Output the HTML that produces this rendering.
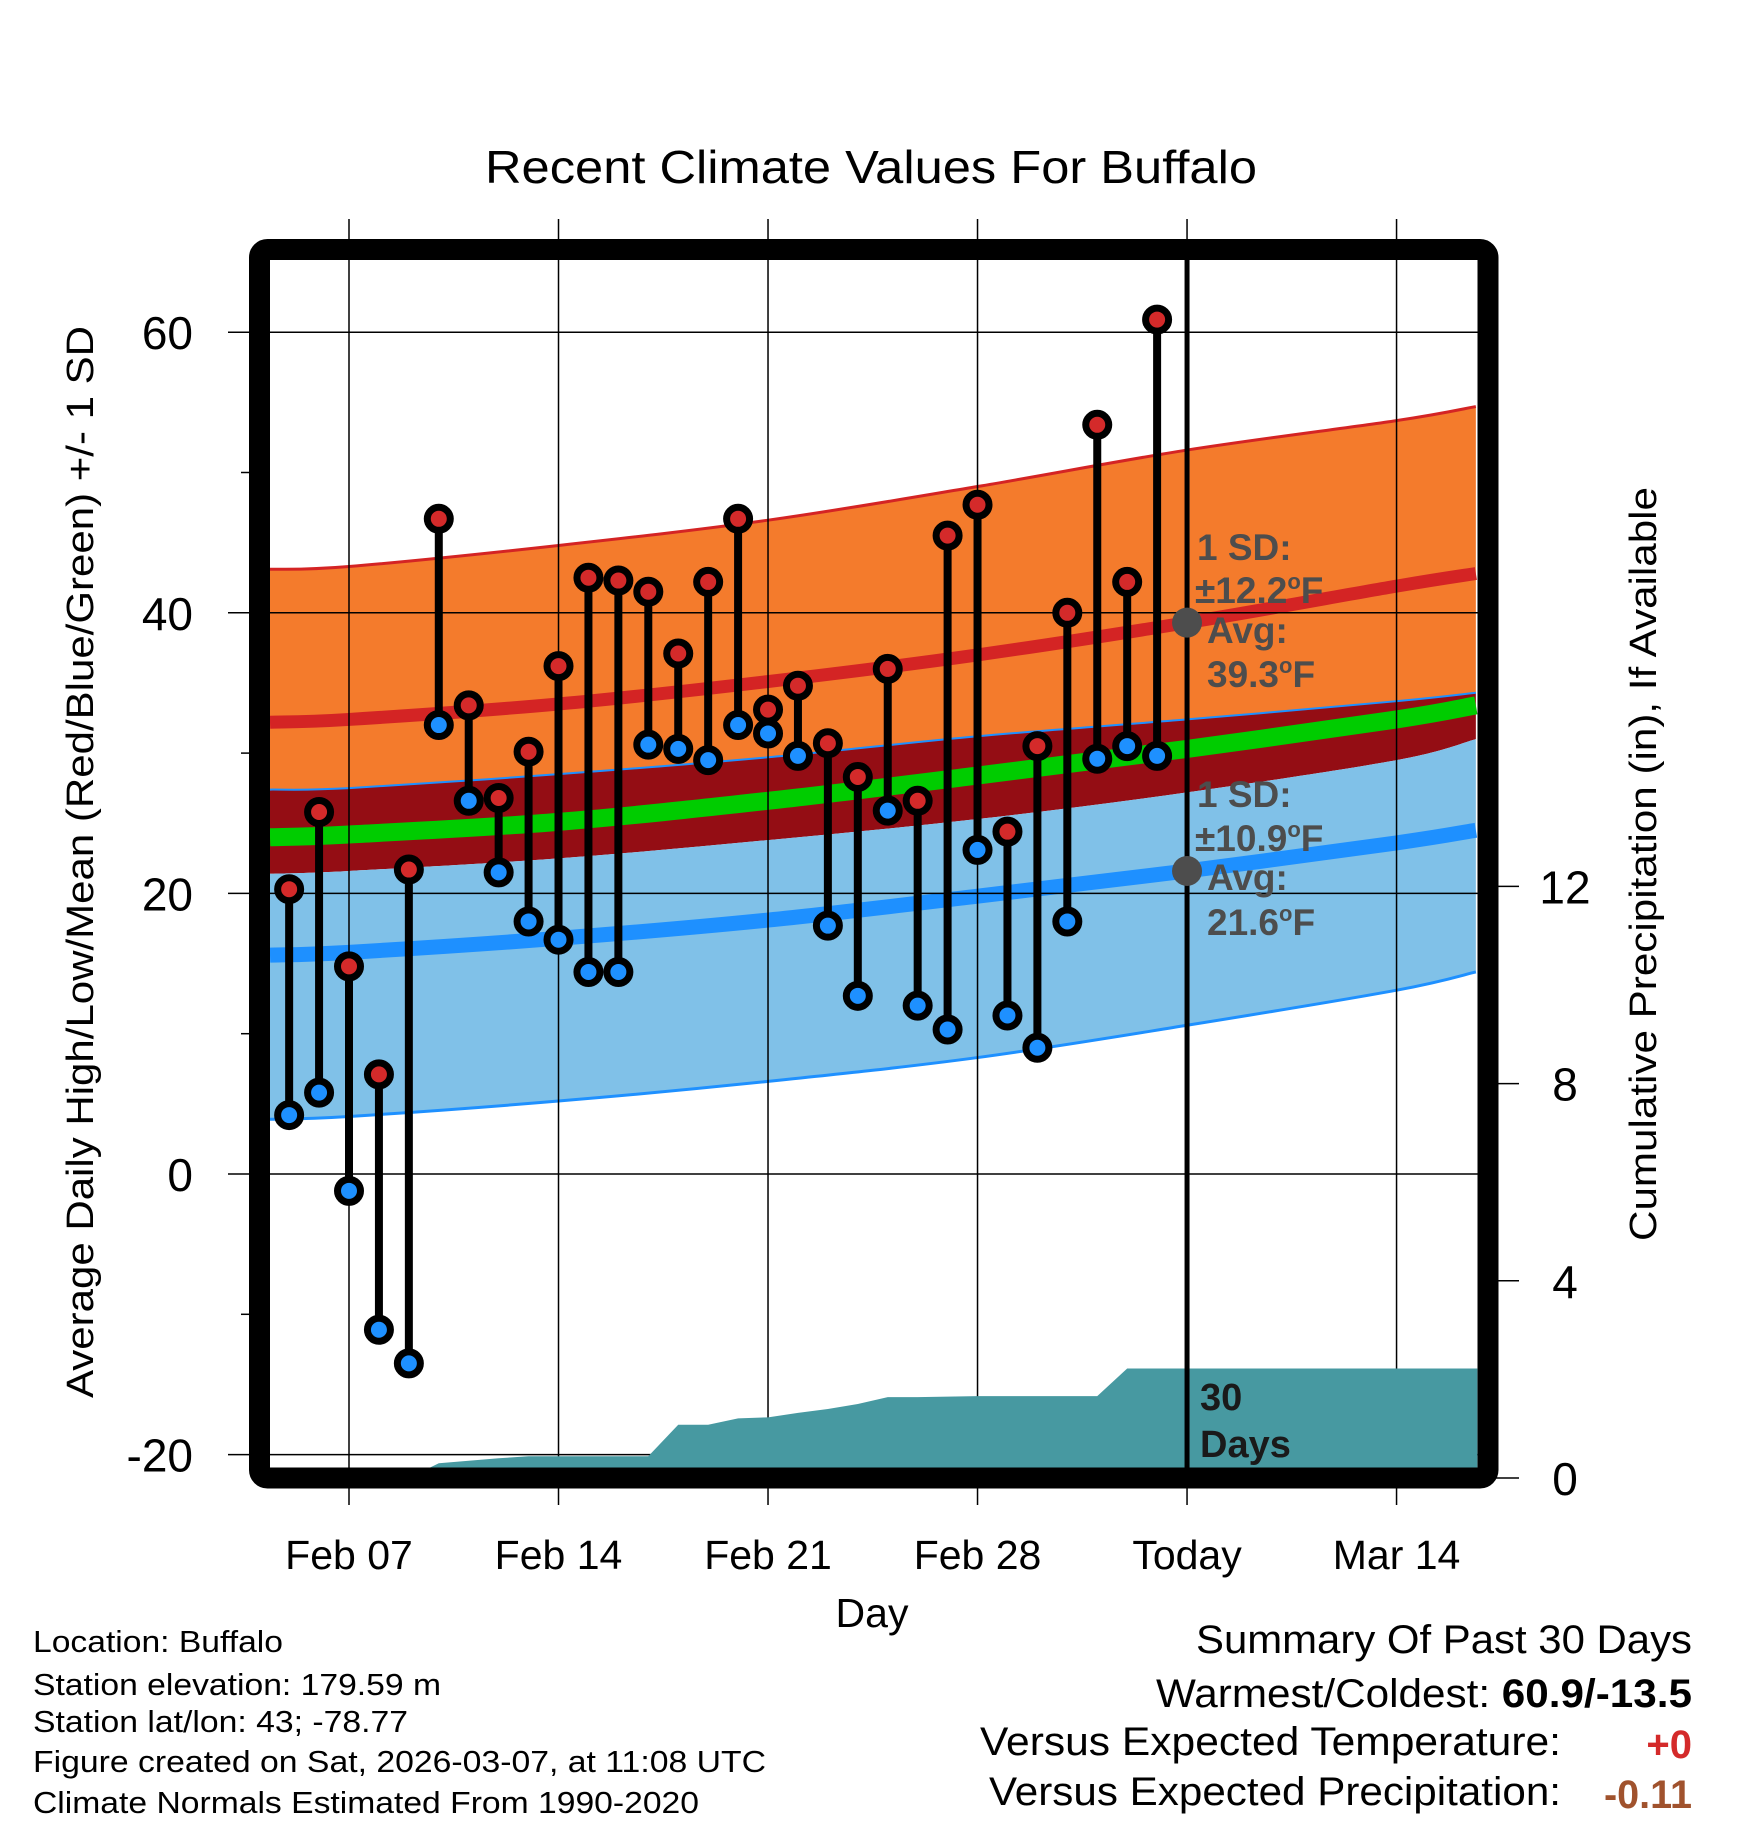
<!DOCTYPE html>
<html><head><meta charset="utf-8"><title>Recent Climate Values For Buffalo</title>
<style>html,body{margin:0;padding:0;background:#fff}svg{display:block}text{font-family:"Liberation Sans",sans-serif}</style>
</head><body>
<svg id="chart" xmlns="http://www.w3.org/2000/svg" width="1748" height="1828" viewBox="0 0 1748 1828">
<rect width="1748" height="1828" fill="#fff"/>
<defs><clipPath id="pc"><rect x="270" y="260" width="1208" height="1208"/></clipPath></defs>
<text x="871" y="183" font-size="46" text-anchor="middle" textLength="772" lengthAdjust="spacingAndGlyphs">Recent Climate Values For Buffalo</text>
<g id="bands" clip-path="url(#pc)"></g>
<g id="grid"></g>
<g id="precip" clip-path="url(#pc)"></g>
<g id="marks"></g>
<g id="annot"></g>
<rect x="259.5" y="249.5" width="1228.5" height="1228.5" rx="8" fill="none" stroke="#000" stroke-width="21"/>
<g id="axes"></g>
<text x="872" y="1627" font-size="41" text-anchor="middle">Day</text>
<text transform="translate(93,862) rotate(-90)" font-size="38" text-anchor="middle" textLength="1072" lengthAdjust="spacingAndGlyphs">Average Daily High/Low/Mean (Red/Blue/Green) +/- 1 SD</text>
<text transform="translate(1656,864) rotate(-90)" font-size="38" text-anchor="middle" textLength="754" lengthAdjust="spacingAndGlyphs">Cumulative Precipitation (in), If Available</text>
<g font-size="31">
<text x="33" y="1652" textLength="250" lengthAdjust="spacingAndGlyphs">Location: Buffalo</text>
<text x="33" y="1695" textLength="408" lengthAdjust="spacingAndGlyphs">Station elevation: 179.59 m</text>
<text x="33" y="1732" textLength="375" lengthAdjust="spacingAndGlyphs">Station lat/lon: 43; -78.77</text>
<text x="33" y="1772" textLength="733" lengthAdjust="spacingAndGlyphs">Figure created on Sat, 2026-03-07, at 11:08 UTC</text>
<text x="33" y="1813" textLength="666" lengthAdjust="spacingAndGlyphs">Climate Normals Estimated From 1990-2020</text>
</g>
<g font-size="40">
<text x="1692" y="1653" text-anchor="end" textLength="496" lengthAdjust="spacingAndGlyphs">Summary Of Past 30 Days</text>
<text x="1692" y="1707" text-anchor="end" textLength="536" lengthAdjust="spacingAndGlyphs">Warmest/Coldest: <tspan font-weight="bold">60.9/-13.5</tspan></text>
<text x="1561" y="1755" text-anchor="end" textLength="581" lengthAdjust="spacingAndGlyphs">Versus Expected Temperature:</text>
<text x="1692" y="1758" text-anchor="end" font-weight="bold" fill="#d42a2a">+0</text>
<text x="1561" y="1805" text-anchor="end" textLength="572" lengthAdjust="spacingAndGlyphs">Versus Expected Precipitation:</text>
<text x="1692" y="1808" text-anchor="end" font-weight="bold" fill="#a0522d" textLength="88" lengthAdjust="spacingAndGlyphs">-0.11</text>
</g>
</svg>
<script>
// ---- data ----
const dayLabels = ["Feb 07","Feb 14","Feb 21","Feb 28","Today","Mar 14"];
const dayTicks = [0,7,14,21,28,35];
const tempTicks = [60,40,20,0,-20];
const tempMinor = [50,30,10,-10];
const precipTicks = [0,4,8,12];
const obsDays = [-2,-1,0,1,2,3,4,5,6,7,8,9,10,11,12,13,14,15,16,17,18,19,20,21,22,23,24,25,26,27];
const highs = [20.3,25.8,14.8,7.1,21.7,46.7,33.4,26.8,30.1,36.2,42.5,42.3,41.5,37.1,42.2,46.7,33.1,34.8,30.7,28.3,36.0,26.6,45.5,47.7,24.4,30.5,40.0,53.4,42.2,60.9];
const lows = [4.2,5.8,-1.2,-11.1,-13.5,32.0,26.6,21.5,18.0,16.7,14.4,14.4,30.6,30.3,29.5,32.0,31.4,29.8,17.7,12.7,25.9,12.0,10.3,23.1,11.3,9.0,18.0,29.6,30.5,29.8];
const precipCum = [0,0,0,0,0,0.30,0.35,0.40,0.44,0.44,0.44,0.44,0.44,1.08,1.08,1.21,1.23,1.32,1.40,1.50,1.64,1.64,1.65,1.66,1.66,1.66,1.66,1.66,2.22,2.22];
const precipEndDay = 37.7;
const normDays = [-2.64,0,7,14,21,28,35,37.65];
const highUpper = [43.1,43.3,44.8,46.6,49.0,51.6,53.7,54.7];
const highAvg = [32.2,32.4,33.5,35.1,37.0,39.3,41.9,42.8];
const highLower = [27.4,27.5,28.5,29.7,31.2,32.4,33.7,34.3];
const meanAvg = [24.0,24.2,25.1,26.6,28.4,30.3,32.4,33.4];
const lowUpper = [21.4,21.6,22.5,23.8,25.3,27.2,29.5,31.0];
const lowAvg = [15.6,15.8,16.8,18.1,19.8,21.6,23.6,24.5];
const lowLower = [3.9,4.1,5.2,6.6,8.3,10.6,13.1,14.4];
const todayDay = 28;
const highSD = "12.2", highAvgTxt = "39.3", lowSD = "10.9", lowAvgTxt = "21.6";
// ---- scales ----
const X = d => 349 + 29.93*d;
const Y = t => 1174 - 14.03*t;
const P = p => 1478 - 49.3*p;
const NS = "http://www.w3.org/2000/svg";
function mk(tag, attrs, parent){const e=document.createElementNS(NS,tag);for(const k in attrs)e.setAttribute(k,attrs[k]);parent.appendChild(e);return e;}
function pts(vals){return normDays.map((d,i)=>[X(d),Y(vals[i])]);}
function smooth(p){let s="M"+p[0][0]+","+p[0][1];for(let i=0;i<p.length-1;i++){const p0=p[i-1]||p[i],p1=p[i],p2=p[i+1],p3=p[i+2]||p2;const c1=[p1[0]+(p2[0]-p0[0])/6,p1[1]+(p2[1]-p0[1])/6],c2=[p2[0]-(p3[0]-p1[0])/6,p2[1]-(p3[1]-p1[1])/6];s+=`C${c1[0]},${c1[1]} ${c2[0]},${c2[1]} ${p2[0]},${p2[1]}`;}return s;}
function band(a,b){const pb=pts(b).reverse();return smooth(pts(a))+smooth(pb).replace("M","L")+"Z";}
const bands=document.getElementById('bands');
let e;
e=mk('path',{d:band(highUpper,highLower),fill:'#f47b2c'},bands);


e=mk('path',{d:band(highLower,lowUpper),fill:'#940d14'},bands);


e=mk('path',{d:band(lowUpper,lowLower),fill:'#80c1e8'},bands);


e=mk('path',{d:smooth(pts(meanAvg)),fill:'none',stroke:'#00cc00','stroke-width':18},bands);


e=mk('path',{d:smooth(pts(highUpper)),fill:'none',stroke:'#d42424','stroke-width':3},bands);


e=mk('path',{d:smooth(pts(highLower)),fill:'none',stroke:'#1e90ff','stroke-width':2},bands);


e=mk('path',{d:smooth(pts(lowLower)),fill:'none',stroke:'#1e90ff','stroke-width':3},bands);


e=mk('path',{d:smooth(pts(highAvg)),fill:'none',stroke:'#d42424','stroke-width':13},bands);


e=mk('path',{d:smooth(pts(lowAvg)),fill:'none',stroke:'#1e90ff','stroke-width':15},bands);


// grid
const grid=document.getElementById('grid');
dayTicks.forEach((d,i)=>{
  const g=mk('line',{x1:X(d),x2:X(d),y1:219,y2:1505,stroke:'#000','stroke-width':1.5},grid);
  
  
  const t=mk('text',{x:X(d),y:1569,'font-size':41,'text-anchor':'middle'},grid);
  t.textContent=dayLabels[i];
  
  
});
tempTicks.forEach(v=>{
  const g=mk('line',{x1:228,x2:1478,y1:Y(v),y2:Y(v),stroke:'#000','stroke-width':1.5},grid);
  
  
  const t=mk('text',{x:193,y:Y(v)+17,'font-size':46,'text-anchor':'end'},grid);
  t.textContent=String(v);
  
  
});
tempMinor.forEach(v=>{
  const g=mk('line',{x1:241,x2:252,y1:Y(v),y2:Y(v),stroke:'#000','stroke-width':1.5},grid);
  
  
});
precipTicks.forEach(v=>{
  const g=mk('line',{x1:1495,x2:1519,y1:P(v),y2:P(v),stroke:'#000','stroke-width':1.5},grid);
  
  
  const t=mk('text',{x:1565,y:P(v)+17,'font-size':46,'text-anchor':'middle'},grid);
  t.textContent=String(v);
  
  
});
// precip area
const pg=document.getElementById('precip');
let pd="M"+X(obsDays[0])+","+P(0);
obsDays.forEach((d,i)=>{pd+=" L"+X(d)+","+P(precipCum[i]);});
pd+=" L"+X(precipEndDay)+","+P(precipCum[precipCum.length-1])+" L"+X(precipEndDay)+","+P(0)+"Z";
e=mk('path',{d:pd,fill:'#4799a1'},pg);


// stems and markers
const mg=document.getElementById('marks');
obsDays.forEach((d,i)=>{
  const s=mk('line',{x1:X(d),x2:X(d),y1:Y(highs[i]),y2:Y(lows[i]),stroke:'#000','stroke-width':8},mg);
  
  
});
obsDays.forEach((d,i)=>{
  const h=mk('circle',{cx:X(d),cy:Y(highs[i]),r:11.5,fill:'#d42a2a',stroke:'#000','stroke-width':7},mg);
  
  
  const l=mk('circle',{cx:X(d),cy:Y(lows[i]),r:11.5,fill:'#1e90ff',stroke:'#000','stroke-width':7},mg);
  
  
});
// today line and annotations
const ag=document.getElementById('annot');
e=mk('line',{x1:X(todayDay),x2:X(todayDay),y1:249,y2:1478,stroke:'#000','stroke-width':5},ag);


e=mk('circle',{cx:X(todayDay),cy:Y(39.3),r:15,fill:'#4d4d4d'},ag);


e=mk('circle',{cx:X(todayDay),cy:Y(21.6),r:15,fill:'#4d4d4d'},ag);


function lab(x,y,txt){const t=mk('text',{x:x,y:y,'font-size':37,'font-weight':'bold',fill:'#4d4d4d'},ag);t.innerHTML=txt;return t;}
e=lab(1197,560,"1 SD:");


e=lab(1195,603,"±"+highSD+"<tspan dy='-14' font-size='22'>o</tspan><tspan dy='14'>F</tspan>");


e=lab(1207,643,"Avg:");


e=lab(1207,687,highAvgTxt+"<tspan dy='-14' font-size='22'>o</tspan><tspan dy='14'>F</tspan>");


e=lab(1197,807,"1 SD:");


e=lab(1195,851,"±"+lowSD+"<tspan dy='-14' font-size='22'>o</tspan><tspan dy='14'>F</tspan>");


e=lab(1207,890,"Avg:");


e=lab(1207,935,lowAvgTxt+"<tspan dy='-14' font-size='22'>o</tspan><tspan dy='14'>F</tspan>");


e=mk('text',{x:1200,y:1410,'font-size':38,'font-weight':'bold',fill:'#1a1a1a'},ag);
e.textContent="30";


e=mk('text',{x:1200,y:1457,'font-size':38,'font-weight':'bold',fill:'#1a1a1a'},ag);
e.textContent="Days";


</script>
</body></html>
